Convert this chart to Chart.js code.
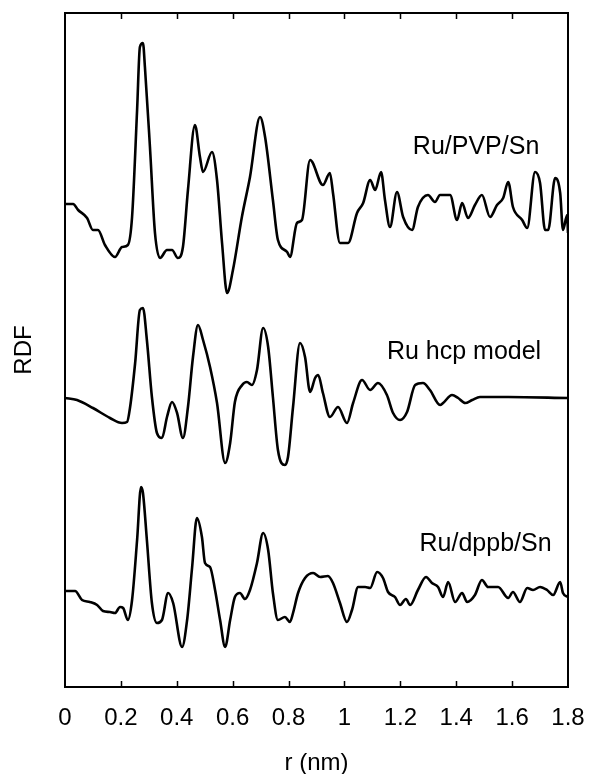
<!DOCTYPE html>
<html>
<head>
<meta charset="utf-8">
<script src="https://cdn.jsdelivr.net/npm/chart.js@4/dist/chart.umd.min.js"></script>
<style>
  html, body { margin: 0; padding: 0; background: #fff; }
  #wrap { width: 589px; height: 774px; }
</style>
</head>
<body>
<div id="wrap"><canvas id="rdfChart" width="589" height="774"></canvas></div>
<script>
// r (nm) and RDF (arbitrary units, curves offset)
const rPVP = [0, 0.029, 0.047, 0.079, 0.100, 0.118, 0.143, 0.179, 0.204, 0.225, 0.240, 0.258, 0.268, 0.279, 0.286, 0.304, 0.322, 0.340, 0.365, 0.383,
  0.404, 0.422, 0.440, 0.465, 0.483, 0.494, 0.526, 0.544, 0.562, 0.580, 0.601, 0.633, 0.662, 0.698, 0.716, 0.744, 0.762, 0.795, 0.805, 0.830,
  0.848, 0.877, 0.923, 0.948, 0.959, 0.984, 1.013, 1.045, 1.067, 1.092, 1.110, 1.131, 1.145, 1.163, 1.188, 1.210, 1.242, 1.263, 1.299, 1.324,
  1.342, 1.378, 1.403, 1.421, 1.442, 1.467, 1.492, 1.521, 1.546, 1.568, 1.586, 1.603, 1.636, 1.654, 1.682, 1.700, 1.718, 1.729, 1.754, 1.772,
  1.782, 1.797, 1.800];
const gPVP = [4.83, 4.83, 4.77, 4.69, 4.57, 4.57, 4.42, 4.30, 4.40, 4.42, 4.70, 5.77, 6.40, 6.44, 6.20, 5.40, 4.54, 4.29, 4.37, 4.37,
  4.29, 4.40, 4.97, 5.62, 5.30, 5.15, 5.35, 5.07, 4.44, 3.94, 4.17, 4.70, 5.10, 5.70, 5.50, 4.87, 4.47, 4.35, 4.30, 4.64,
  4.67, 5.27, 5.02, 5.14, 4.94, 4.44, 4.44, 4.74, 4.84, 5.07, 4.97, 5.15, 4.87, 4.60, 4.95, 4.70, 4.57, 4.80, 4.92, 4.85,
  4.92, 4.92, 4.67, 4.84, 4.69, 4.82, 4.92, 4.70, 4.82, 4.89, 5.05, 4.80, 4.67, 4.59, 5.15, 5.04, 4.57, 4.57, 5.09, 4.94,
  4.57, 4.72, 4.54];

const rHcp = [0, 0.043, 0.100, 0.161, 0.204, 0.222, 0.233, 0.251, 0.268, 0.279, 0.293, 0.311, 0.329, 0.347, 0.365, 0.383, 0.401, 0.422, 0.440, 0.458,
  0.476, 0.494, 0.519, 0.544, 0.573, 0.591, 0.608, 0.634, 0.651, 0.669, 0.687, 0.709, 0.727, 0.744, 0.762, 0.787, 0.798, 0.816, 0.841, 0.859,
  0.877, 0.895, 0.906, 0.923, 0.948, 0.977, 1.009, 1.031, 1.063, 1.092, 1.120, 1.152, 1.174, 1.199, 1.224, 1.253, 1.281, 1.306, 1.342, 1.353,
  1.385, 1.407, 1.432, 1.457, 1.485, 1.586, 1.800];
const gHcp = [2.89, 2.87, 2.79, 2.69, 2.64, 2.65, 2.80, 3.24, 3.77, 3.79, 3.47, 2.90, 2.54, 2.49, 2.70, 2.85, 2.74, 2.49, 2.80, 3.30,
  3.62, 3.47, 3.20, 2.84, 2.24, 2.44, 2.85, 3.02, 3.05, 3.02, 3.17, 3.59, 3.40, 2.90, 2.37, 2.22, 2.30, 2.80, 3.44, 3.30,
  2.95, 3.09, 3.12, 2.94, 2.70, 2.80, 2.64, 2.84, 3.07, 2.97, 3.04, 2.92, 2.74, 2.67, 2.75, 3.02, 3.04, 2.97, 2.82, 2.84,
  2.92, 2.89, 2.84, 2.87, 2.90, 2.90, 2.89];

const rDppb = [0, 0.036, 0.061, 0.089, 0.115, 0.136, 0.161, 0.179, 0.197, 0.208, 0.225, 0.240, 0.258, 0.272, 0.279, 0.293, 0.311, 0.329, 0.347, 0.369,
  0.387, 0.419, 0.437, 0.455, 0.472, 0.490, 0.501, 0.519, 0.537, 0.555, 0.573, 0.591, 0.608, 0.626, 0.644, 0.662, 0.687, 0.709, 0.727, 0.744,
  0.762, 0.787, 0.805, 0.816, 0.834, 0.859, 0.888, 0.913, 0.941, 0.959, 0.984, 1.009, 1.027, 1.049, 1.074, 1.092, 1.117, 1.138, 1.156, 1.181,
  1.199, 1.220, 1.235, 1.263, 1.292, 1.313, 1.335, 1.353, 1.371, 1.396, 1.421, 1.439, 1.467, 1.492, 1.514, 1.550, 1.586, 1.603, 1.628, 1.654,
  1.675, 1.700, 1.725, 1.747, 1.772, 1.782, 1.800];
const gDppb = [0.96, 0.96, 0.87, 0.85, 0.82, 0.76, 0.75, 0.74, 0.80, 0.79, 0.67, 0.87, 1.47, 2.00, 1.94, 1.47, 0.84, 0.64, 0.67, 0.94,
  0.84, 0.40, 0.67, 1.20, 1.69, 1.50, 1.24, 1.20, 0.97, 0.67, 0.40, 0.67, 0.90, 0.94, 0.88, 0.97, 1.24, 1.54, 1.37, 0.94,
  0.67, 0.70, 0.65, 0.74, 0.94, 1.09, 1.14, 1.10, 1.11, 1.04, 0.84, 0.65, 0.77, 1.00, 1.00, 0.99, 1.15, 1.09, 0.95, 0.90,
  0.82, 0.88, 0.82, 0.97, 1.10, 1.04, 1.00, 0.90, 1.05, 0.85, 0.94, 0.85, 0.92, 1.07, 1.00, 1.00, 0.89, 0.95, 0.85, 0.99,
  0.97, 1.00, 0.97, 0.92, 1.05, 0.94, 0.90];

const tickValues = [0, 0.2, 0.4, 0.6, 0.8, 1, 1.2, 1.4, 1.6, 1.8];
const tickLabels = ['0', '0.2', '0.4', '0.6', '0.8', '1', '1.2', '1.4', '1.6', '1.8'];

const curveNames = ['Ru/PVP/Sn', 'Ru hcp model', 'Ru/dppb/Sn'];
const nameR = [1.471, 1.428, 1.505];
const nameG = [5.40, 3.35, 1.43];

const FONT = '"Liberation Sans", Arial, Helvetica, sans-serif';

function pts(xs, ys) {
  return xs.map((x, i) => ({ x: x, y: ys[i] }));
}

function line(label, xs, ys) {
  return {
    label: label,
    data: pts(xs, ys),
    borderColor: '#000',
    borderWidth: 2.6,
    pointRadius: 0,
    cubicInterpolationMode: 'monotone',
    showLine: true,
    fill: false
  };
}

// frame, inward ticks, y label and curve names
const decor = {
  id: 'decor',
  afterDatasetsDraw(chart) {
    const c = chart.ctx;
    const a = chart.chartArea;
    const xs = chart.scales.x;
    const ys = chart.scales.y;
    c.save();
    c.strokeStyle = '#000';
    c.lineWidth = 2;
    c.strokeRect(a.left, a.top, a.right - a.left, a.bottom - a.top);
    c.lineWidth = 1.5;
    tickValues.forEach(v => {
      if (v === 0 || v === 1.8) return;
      const px = Math.round(xs.getPixelForValue(v)) + 0.5;
      c.beginPath();
      c.moveTo(px, a.bottom);
      c.lineTo(px, a.bottom - 6);
      c.moveTo(px, a.top);
      c.lineTo(px, a.top + 6);
      c.stroke();
    });

    c.fillStyle = '#000';
    c.font = '25px ' + FONT;
    c.textAlign = 'center';
    c.textBaseline = 'middle';
    curveNames.forEach((name, i) => {
      c.fillText(name, xs.getPixelForValue(nameR[i]), ys.getPixelForValue(nameG[i]));
    });

    c.translate(24, 350);
    c.rotate(-Math.PI / 2);
    c.font = '24px ' + FONT;
    c.fillText('RDF', 0, 0);
    c.restore();
  }
};

const ctx = document.getElementById('rdfChart').getContext('2d');
const rdfChart = new Chart(ctx, {
  type: 'scatter',
  data: {
    datasets: [
      line(curveNames[0], rPVP, gPVP),
      line(curveNames[1], rHcp, gHcp),
      line(curveNames[2], rDppb, gDppb)
    ]
  },
  options: {
    responsive: false,
    animation: false,
    layout: { padding: { left: 65, right: 21, top: 13, bottom: 0 } },
    plugins: {
      legend: { display: false },
      tooltip: { enabled: false }
    },
    scales: {
      x: {
        type: 'linear',
        min: 0,
        max: 1.8,
        afterBuildTicks(scale) {
          scale.ticks = tickValues.map(v => ({ value: v }));
        },
        afterFit(scale) {
          scale.height = 87;
          scale.paddingLeft = 0;
          scale.paddingRight = 0;
        },
        grid: { display: false, drawTicks: false },
        border: { display: false },
        ticks: {
          color: '#000',
          padding: 17,
          maxRotation: 0,
          autoSkip: false,
          font: { family: FONT, size: 24 },
          callback: (v, i) => tickLabels[i]
        },
        title: {
          display: true,
          text: 'r (nm)',
          color: '#000',
          padding: { top: 0, bottom: -4 },
          font: { family: FONT, size: 24 }
        }
      },
      y: {
        type: 'linear',
        min: 0,
        max: 6.74,
        display: false
      }
    }
  },
  plugins: [decor]
});
</script>
</body>
</html>
